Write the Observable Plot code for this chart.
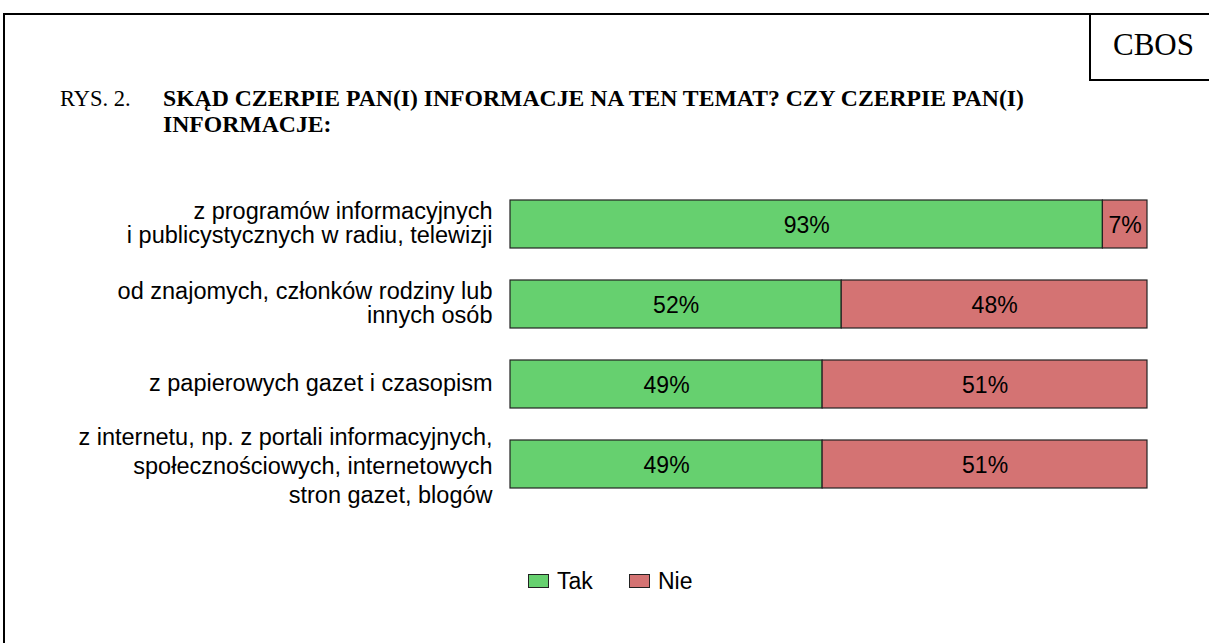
<!DOCTYPE html>
<html>
<head>
<meta charset="utf-8">
<script src="https://cdn.jsdelivr.net/npm/d3@7"></script>
<script src="https://cdn.jsdelivr.net/npm/@observablehq/plot@0.6"></script>
<style>
  html, body { margin: 0; padding: 0; background: #fff; }
  #page { position: relative; width: 1209px; height: 643px; overflow: hidden; background: #fff; }
  #frame { position: absolute; left: 3px; top: 13px; width: 1400px; height: 800px; border: 2px solid #000; }
  #cbos { position: absolute; left: 1089px; top: 13px; width: 300px; height: 64px; border: 2px solid #000; background: #fff; }
  #cbos span { position: absolute; left: 22px; top: 12px; font: 31px "Liberation Serif", "Times New Roman", serif; color: #000; }
  .title { position: absolute; font-family: "Liberation Serif", "Times New Roman", serif; line-height: 26px; color: #000; }
  #rys { left: 60px; top: 86px; font-size: 22.5px; }
  #question { left: 163px; top: 85px; font-size: 23.7px; font-weight: bold; width: 960px; }
  #chart { position: absolute; left: 0; top: 170px; }
  #legend { position: absolute; top: 568px; left: 0; width: 1209px; font: 23px "Liberation Sans", Arial, sans-serif; color: #000; }
  .item { position: absolute; top: 0; }
  .sw { position: absolute; top: 6px; width: 19px; height: 12px; border: 1px solid #222; }
  .lab { position: absolute; left: 29px; top: 0; white-space: nowrap; }
</style>
</head>
<body>
<div id="page">
  <div id="frame"></div>
  <div id="cbos"><span>CBOS</span></div>
  <div class="title" id="rys">RYS. 2.</div>
  <div class="title" id="question">SKĄD CZERPIE PAN(I) INFORMACJE NA TEN TEMAT? CZY CZERPIE PAN(I)<br>INFORMACJE:</div>
  <div id="chart"></div>
  <div id="legend"></div>
</div>
<script>
const categories = [
  "z programów informacyjnych\ni publicystycznych w radiu, telewizji",
  "od znajomych, członków rodziny lub\ninnych osób",
  "z papierowych gazet i czasopism",
  "z internetu, np. z portali informacyjnych,\nspołecznościowych, internetowych\nstron gazet, blogów"
];
const answers = ["Tak", "Nie"];
const takValues = [93, 52, 49, 49];
const nieValues = [7, 48, 51, 51];
const colors = ["#66d06f", "#d47373"];

const rows = [];
categories.forEach((c, i) => {
  rows.push({cat: c, answer: answers[0], value: takValues[i]});
  rows.push({cat: c, answer: answers[1], value: nieValues[i]});
});

const axisStyle = {tickSize: 0, tickPadding: 18, fontSize: 23.5, label: null, textAnchor: "end", fill: "#000"};

const chart = Plot.plot({
  width: 1209,
  height: 340,
  marginLeft: 510,
  marginRight: 62,
  marginTop: 28.7,
  marginBottom: 21.3,
  style: {fontFamily: '"Liberation Sans", Arial, sans-serif', fontSize: "23px", color: "#000", background: "transparent"},
  x: {domain: [0, 100], axis: null},
  y: {domain: categories, paddingInner: 0.405, paddingOuter: 0, label: null, axis: null},
  color: {domain: answers, range: colors},
  marks: [
    Plot.barX(rows, Plot.stackX({x: "value", y: "cat", fill: "answer", order: answers, stroke: "#222", strokeWidth: 1.2})),
    Plot.text(rows, Plot.stackX({x: "value", y: "cat", z: "answer", order: answers, text: d => d.value + "%", fill: "#000", fontSize: 23, dy: 1})),
    Plot.axisY({...axisStyle, ticks: categories.slice(0, 3), lineHeight: 1.03, dy: -1}),
    Plot.axisY({...axisStyle, ticks: categories.slice(3), lineHeight: 1.24})
  ]
});
document.getElementById("chart").appendChild(chart);

const legend = document.getElementById("legend");
const legendX = [528, 629];
answers.forEach((a, i) => {
  const item = document.createElement("div");
  item.className = "item";
  item.style.left = legendX[i] + "px";
  const sw = document.createElement("div");
  sw.className = "sw";
  sw.style.background = colors[i];
  const lab = document.createElement("div");
  lab.className = "lab";
  lab.textContent = a;
  item.appendChild(sw);
  item.appendChild(lab);
  legend.appendChild(item);
});
</script>
</body>
</html>
